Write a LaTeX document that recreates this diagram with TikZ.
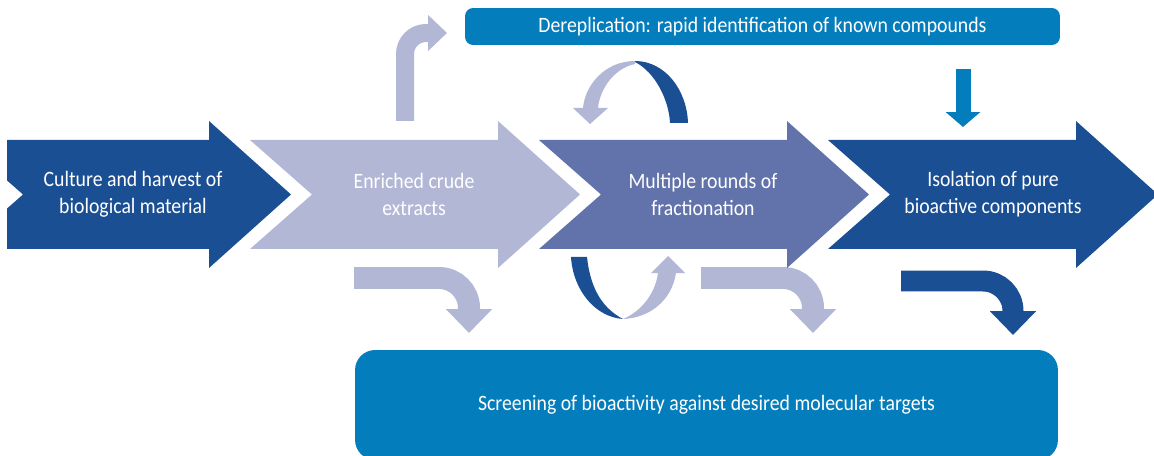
\documentclass[tikz,border=0pt]{standalone}
\usepackage{fontspec}
\setmainfont{Carlito}[FakeStretch=0.9]
\usetikzlibrary{arrows.meta}
\definecolor{darkblue}{RGB}{27,79,147}
\definecolor{lightblue}{RGB}{178,183,214}
\definecolor{midblue}{RGB}{98,115,171}
\definecolor{boxblue}{RGB}{4,125,188}
% one big chevron step, #1 = left edge in px
\newcommand{\chevron}[2]{\fill[#2] (#1,140) -- (#1+248,140) -- (#1+248,121) -- (#1+330,194.5) -- (#1+248,268) -- (#1+248,249) -- (#1,249) -- (#1+62,194.5) -- cycle;}
\begin{document}
\begin{tikzpicture}[x=0.02cm, y=-0.02cm,
	lbl/.style={text=white, align=center, font=\fontsize{12.5}{15.4}\selectfont},
	bent/.style={line width=0.44cm, rounded corners=0.6cm, -{Triangle[width=0.9cm, length=0.48cm]}},
	box/.style={fill=boxblue, text=white, font=\fontsize{12.5}{15.4}\selectfont}]
	\useasboundingbox (0,0) rectangle (1154,456);
	% boxes
	\node (derep) [box, minimum width=11.9cm, minimum height=0.74cm, rounded corners=0.16cm] at (762.5,26.5) {Dereplication: rapid identification of known compounds};
	\node (screen) [box, minimum width=14.06cm, minimum height=2.2cm, rounded corners=0.4cm] at (706.5,405) {Screening of bioactivity against desired molecular targets};
	% connectors
	\coordinate (up1) at (405,121);
	\coordinate (up2) at (447,33);
	\coordinate (dn1) at (963,69);
	\coordinate (dn2) at (963,127);
	\coordinate (b1s) at (354,278);
	\coordinate (b1e) at (469,333);
	\coordinate (b2s) at (701,278);
	\coordinate (b2e) at (813,333);
	\coordinate (b3s) at (901,281);
	\coordinate (b3e) at (1013,335);
	\draw[lightblue, line width=0.36cm, rounded corners=0.42cm, -{Triangle[width=0.7cm, length=0.38cm]}] (up1) |- (up2);
	\draw[boxblue, line width=0.3cm, -{Triangle[width=0.68cm, length=0.3cm]}] (dn1) -- (dn2);
	\draw[bent, lightblue] (b1s) -| (b1e);
	\draw[bent, lightblue] (b2s) -| (b2e);
	\draw[bent, darkblue, line width=0.42cm] (b3s) -| (b3e);
	% round arrows
	\fill[darkblue] (635,61) .. controls (665,61) and (687,90) .. (688,123) -- (670,123) .. controls (669,100) and (655,72) .. (635,62) -- cycle;
	\fill[lightblue] (635,61) .. controls (605,61) and (585,85) .. (583,108) -- (573,108) -- (590,124) -- (608,108) -- (598,108) .. controls (600,88) and (615,68) .. (635,64) -- cycle;
	\fill[darkblue] (571,257) -- (587,257) .. controls (590,285) and (600,307) .. (623,319) .. controls (595,317) and (573,290) .. (571,257) -- cycle;
	\fill[lightblue] (623,319) .. controls (650,318) and (672,300) .. (676,273) -- (685,273) -- (668,256) -- (651,273) -- (658,273) .. controls (655,295) and (640,312) .. (623,319) -- cycle;
	% chevrons
	\begin{scope}
		\clip (7,0) rectangle (400,300);
		\chevron{-39}{darkblue}
	\end{scope}
	\chevron{250}{lightblue}
	\chevron{539}{midblue}
	\chevron{828}{darkblue}
	\node (cult) [lbl] at (133,194) {Culture and harvest of\\biological material};
	\node (crude) [lbl] at (414,194) {Enriched crude\\extracts};
	\node (frac) [lbl] at (703,194) {Multiple rounds of\\fractionation};
	\node (iso) [lbl] at (993,194) {Isolation of pure\\bioactive components};
\end{tikzpicture}
\end{document}
